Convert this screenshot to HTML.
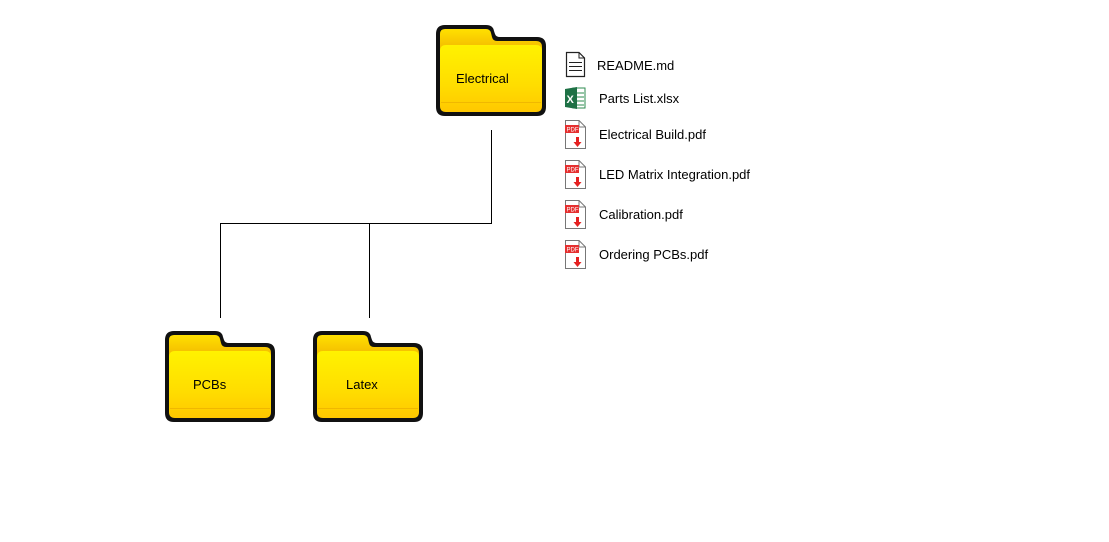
<!DOCTYPE html>
<html><head><meta charset="utf-8"><style>
body{margin:0;background:#fff;}
svg{display:block;font-family:"Liberation Sans",Arial,sans-serif;}
</style></head><body>
<svg width="1109" height="542" viewBox="0 0 1109 542" xmlns="http://www.w3.org/2000/svg">
<defs>
<linearGradient id="yb" x1="0" y1="0" x2="0" y2="1">
<stop offset="0" stop-color="#fff200"/><stop offset="0.6" stop-color="#ffdd00"/><stop offset="1" stop-color="#ffc800"/>
</linearGradient>
<linearGradient id="yt" x1="0" y1="0" x2="0" y2="1">
<stop offset="0" stop-color="#ffe000"/><stop offset="1" stop-color="#f0b000"/>
</linearGradient>
<g id="folder">
<path d="M9,0 H50 Q57,0 58,6 L59,9 Q60,12 64,12 H101 Q110,12 110,21 V82 Q110,91 101,91 H9 Q0,91 0,82 V9 Q0,0 9,0 Z" fill="#111"/>
<path d="M9,4 H50 Q54,4 55,8 L56,12 Q57,16 61,16 H100 Q106,16 106,22 V30 H4 V9 Q4,4 9,4 Z" fill="url(#yt)"/>
<path d="M4,26 Q4,20 10,20 H100 Q106,20 106,26 V81 Q106,87 100,87 H10 Q4,87 4,81 Z" fill="url(#yb)"/>
<rect x="5" y="77" width="100" height="1" fill="#f0b800"/>
</g>
<g id="pdf">
<path d="M0.5,0.5 H14 L20.5,7 V28.5 H0.5 Z" fill="#fff" stroke="#777" stroke-width="1"/>
<path d="M14,0.5 V7 H20.5" fill="none" stroke="#777"/>
<rect x="0" y="5" width="14" height="8" fill="#e53030"/>
<text x="1.5" y="11.5" font-size="6" fill="#fff">PDF</text>
<rect x="11" y="17" width="3" height="6" fill="#e52020"/>
<path d="M8.5,22 H16.5 L12.5,27 Z" fill="#e52020"/>
</g>
</defs>

<use href="#folder" x="436" y="25"/>
<use href="#folder" x="165" y="331"/>
<use href="#folder" x="313" y="331"/>
<text x="456" y="83" font-size="13">Electrical</text>
<text x="193" y="389" font-size="13">PCBs</text>
<text x="346" y="389" font-size="13">Latex</text>

<g stroke="#000" stroke-width="1" fill="none">
<path d="M491.5,130 V223.5 H220.5 V318"/>
<path d="M369.5,223.5 V318"/>
</g>

<path d="M566.5,52.5 H579 L584.5,58 V76.5 H566.5 Z" fill="#fff" stroke="#222" stroke-width="1.2"/>
<path d="M579,52.5 V58 H584.5" fill="none" stroke="#222"/>
<g stroke="#222"><line x1="569" y1="62.5" x2="582" y2="62.5"/><line x1="569" y1="66.5" x2="582" y2="66.5"/><line x1="569" y1="70.5" x2="582" y2="70.5"/></g>
<text x="597" y="70" font-size="13">README.md</text>

<rect x="573" y="88" width="12" height="20" fill="#fff" stroke="#2e8b4f"/>
<g stroke="#2e8b4f"><line x1="575" y1="93" x2="584" y2="93"/><line x1="575" y1="97" x2="584" y2="97"/><line x1="575" y1="101" x2="584" y2="101"/><line x1="575" y1="105" x2="584" y2="105"/></g>
<path d="M565,89 L577,87 V109 L565,107 Z" fill="#1e7145"/>
<text x="566.5" y="103" font-size="11" font-weight="bold" fill="#fff">X</text>
<text x="599" y="103" font-size="13">Parts List.xlsx</text>

<use href="#pdf" x="565" y="120"/>
<text x="599" y="139" font-size="13">Electrical Build.pdf</text>
<use href="#pdf" x="565" y="160"/>
<text x="599" y="179" font-size="13">LED Matrix Integration.pdf</text>
<use href="#pdf" x="565" y="200"/>
<text x="599" y="219" font-size="13">Calibration.pdf</text>
<use href="#pdf" x="565" y="240"/>
<text x="599" y="259" font-size="13">Ordering PCBs.pdf</text>
</svg>
</body></html>
